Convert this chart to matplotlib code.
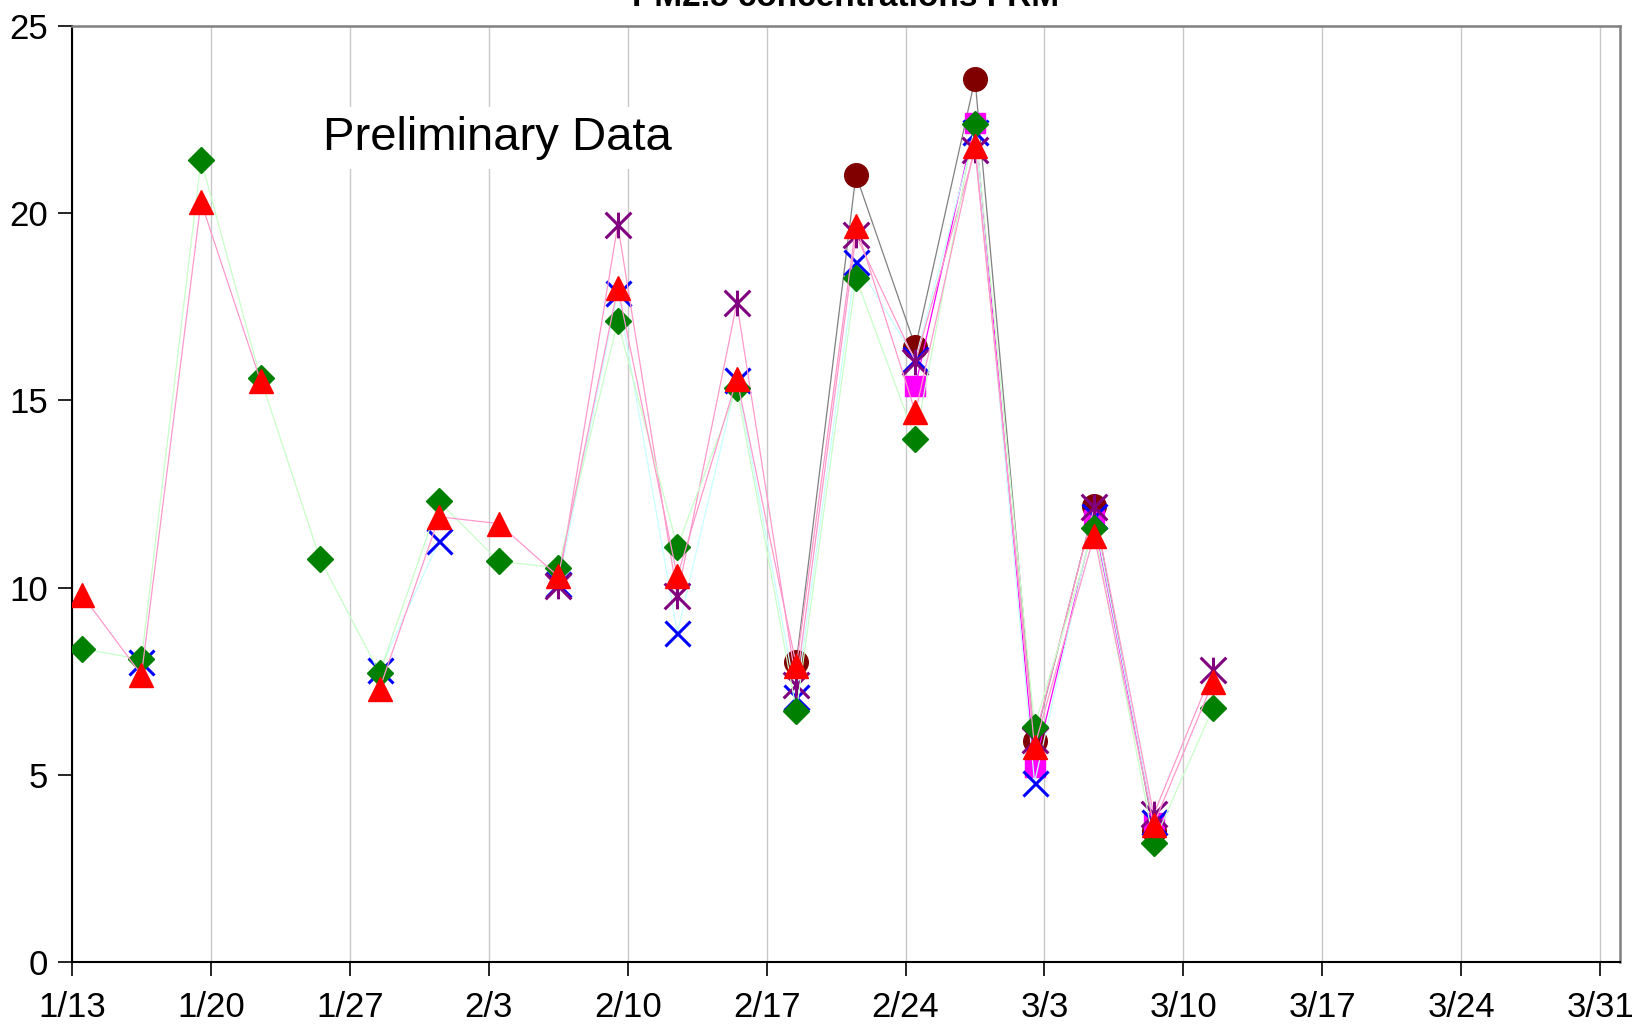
import matplotlib
matplotlib.use('Agg')
import matplotlib.pyplot as plt
import matplotlib.dates as mdates
from matplotlib.path import Path
import numpy as np
import pandas as pd

plt.rcParams['font.family'] = ['Liberation Sans', 'DejaVu Sans']

# ---------------- data ----------------
sample_dates = ['2003-01-13 12:00', '2003-01-16 12:00', '2003-01-19 12:00', '2003-01-22 12:00',
                '2003-01-25 12:00', '2003-01-28 12:00', '2003-01-31 12:00', '2003-02-03 12:00',
                '2003-02-06 12:00', '2003-02-09 12:00', '2003-02-12 12:00', '2003-02-15 12:00',
                '2003-02-18 12:00', '2003-02-21 12:00', '2003-02-24 12:00', '2003-02-27 12:00',
                '2003-03-02 12:00', '2003-03-05 12:00', '2003-03-08 12:00', '2003-03-11 12:00']

tick_dates = ['2003-01-13', '2003-01-20', '2003-01-27', '2003-02-03', '2003-02-10', '2003-02-17',
              '2003-02-24', '2003-03-03', '2003-03-10', '2003-03-17', '2003-03-24', '2003-03-31']
tick_labels = ['1/13', '1/20', '1/27', '2/3', '2/10', '2/17', '2/24', '3/3', '3/10', '3/17', '3/24', '3/31']
x_start = '2003-01-13'
x_end = '2003-04-01'

y_ticks = [0, 5, 10, 15, 20, 25]

N = None
circle_vals = [N, N, N, N, N, N, N, N, N, N, N, N,
               8.02, 21.02, 16.43, 23.58, 5.89, 12.17, 3.50, N]
square_vals = [N, N, N, N, N, N, N, N, N, N, N, N,
               N, N, 15.39, 22.41, 5.22, 11.80, 3.70, N]
xmark_vals = [N, 8.00, N, N, N, 7.80, 11.25, N, 10.10, 17.88, 8.80, 15.55,
              7.07, 18.70, 16.10, 22.17, 4.79, 11.90, 3.75, N]
aster_vals = [N, N, N, N, N, N, N, N, 10.05, 19.69, 9.77, 17.60,
              7.41, 19.41, 16.03, 21.69, 5.94, 12.14, 3.94, 7.81]
diamond_vals = [8.37, 8.08, 21.42, 15.59, 10.76, 7.72, 12.30, 10.70, 10.53, 17.11, 11.09, 15.33,
                6.71, 18.27, 13.97, 22.39, 6.29, 11.60, 3.19, 6.79]
triangle_vals = [9.81, 7.67, 20.30, 15.52, N, 7.30, 11.89, 11.71, 10.30, 18.01, 10.30, 15.57,
                 7.91, 19.67, 14.68, 21.80, 5.75, 11.39, 3.67, 7.49]

title_text = 'PM2.5 concentrations FRM'
note_text = 'Preliminary Data'

# ---------------- figure ----------------
W, H = 1646, 1024
fig = plt.figure(figsize=(W / 100, H / 100), dpi=100)
ax_l, ax_r, ax_t, ax_b = 72, 1620, 26, 962
ax = fig.add_axes([ax_l / W, 1 - ax_b / H, (ax_r - ax_l) / W, (ax_b - ax_t) / H])

x = pd.to_datetime(sample_dates)


def to_arr(v):
    return np.array([np.nan if a is None else a for a in v], dtype=float)


aster_path = Path([(-1, -1), (1, 1), (-1, 1), (1, -1), (0, -1), (0, 1)],
                  [Path.MOVETO, Path.LINETO, Path.MOVETO, Path.LINETO, Path.MOVETO, Path.LINETO])

series = [
    dict(v=circle_vals, marker='o', mc='#800000', ms=17, mew=1, lc='#808080', z=3),
    dict(v=square_vals, marker='s', mc='#FF00FF', ms=14, mew=1, lc='#FF00FF', z=4),
    dict(v=xmark_vals, marker='x', mc='#0000FF', ms=18, mew=2.2, lc='#C8FFFF', z=5),
    dict(v=aster_vals, marker=aster_path, mc='#800080', ms=18.5, mew=2.2, lc='#FF99CC', z=6),
    dict(v=diamond_vals, marker='D', mc='#008000', ms=13.5, mew=1, lc='#C8FFC8', z=7),
    dict(v=triangle_vals, marker='^', mc='#FF0000', ms=17.5, mew=1, lc='#FF99CC', z=8),
]

for s in series:
    y = to_arr(s['v'])
    ax.plot(x, y, color=s['lc'], lw=0.9, zorder=s['z'])
    if s['marker'] is aster_path:
        ax.plot(x, y, linestyle='none', marker=s['marker'], ms=s['ms'], mec=s['mc'],
                mfc='none', mew=s['mew'], zorder=s['z'] + 0.1)
    else:
        ax.plot(x, y, linestyle='none', marker=s['marker'], ms=s['ms'], mec=s['mc'],
                mfc=s['mc'], mew=s['mew'], zorder=s['z'] + 0.1)

# axes
ax.set_xlim(pd.Timestamp(x_start), pd.Timestamp(x_end))
ax.set_ylim(y_ticks[0], y_ticks[-1])
ax.set_xticks(pd.to_datetime(tick_dates))
ax.set_xticklabels(tick_labels)
ax.set_yticks(y_ticks)
ax.set_yticklabels([str(v) for v in y_ticks])
ax.tick_params(axis='x', direction='out', length=10, width=1.2, labelsize=25, pad=11)
ax.tick_params(axis='y', direction='out', length=10, width=1.2, labelsize=25, pad=7)
ax.grid(axis='x', color='#C8C8C8', lw=1.0, zorder=0)
ax.set_axisbelow(True)

ax.spines['left'].set_color('black')
ax.spines['bottom'].set_color('black')
ax.spines['left'].set_linewidth(1.5)
ax.spines['bottom'].set_linewidth(1.5)
ax.spines['top'].set_color('#808080')
ax.spines['right'].set_color('#808080')
ax.spines['top'].set_linewidth(1.8)
ax.spines['right'].set_linewidth(1.8)

# note text with white box
ax.text((497 - ax_l) / (ax_r - ax_l), (ax_b - 138) / (ax_b - ax_t), note_text,
        transform=ax.transAxes, ha='center', va='center', fontsize=34,
        bbox=dict(boxstyle='square,pad=0.2', fc='white', ec='none'), zorder=1.5)

# title (cut off at top as in the original)
fig.text((ax_l + ax_r) / 2 / W, 1 - 6 / H, title_text, ha='center', va='baseline',
         fontsize=24, fontweight='bold')

fig.savefig('out.png', dpi=100, facecolor='white')
